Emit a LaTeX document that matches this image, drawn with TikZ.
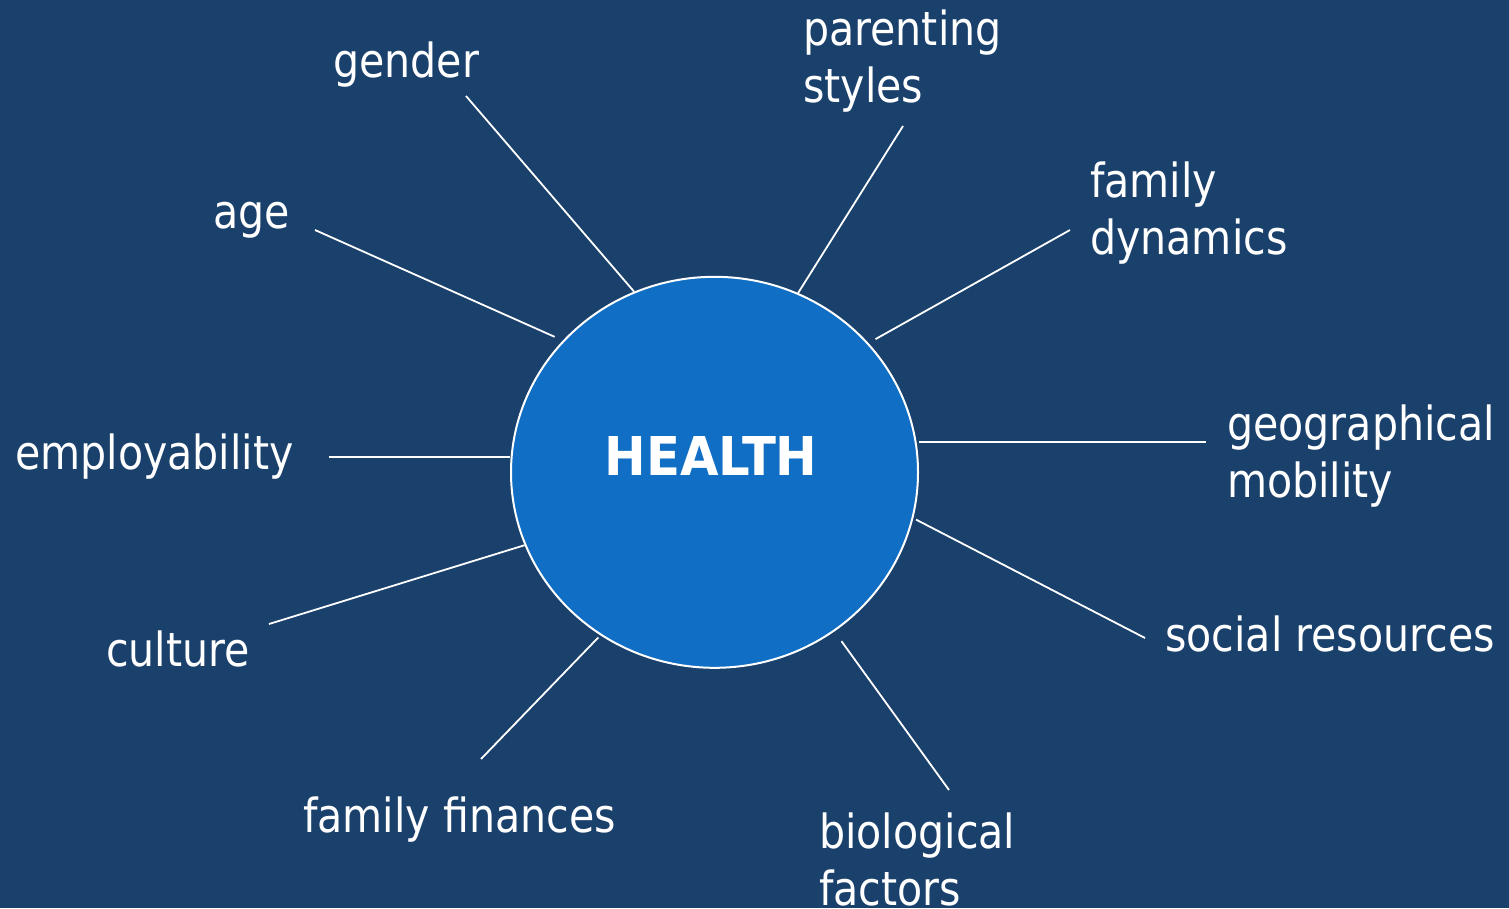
\documentclass[tikz,border=0pt]{standalone}
\usepackage{fontspec}
\setmainfont{DejaVu Sans}[FakeStretch=0.875]
\newfontfamily\hfont{DejaVu Sans}[FakeStretch=0.93]
\usetikzlibrary{shapes.geometric}
\definecolor{bg}{RGB}{26,64,108}
\definecolor{disc}{RGB}{16,110,196}
\begin{document}
\begin{tikzpicture}[x=1pt,y=-1pt,
  lbl/.style={text=white, inner sep=0pt, font=\fontsize{47}{57.5}\selectfont, anchor=base west},
  spoke/.style={draw=white, line width=1.8pt}]
\fill[bg] (0,0) rectangle (1509,908);
\useasboundingbox (0,0) rectangle (1509,908);
\node[ellipse, fill=disc, draw=white, line width=2pt, minimum width=407pt, minimum height=391pt, inner sep=0pt] (health) at (714.5,472.3) {};
\node[font=\hfont\bfseries\fontsize{53.5}{60}\selectfont, text=white, anchor=base, inner sep=0pt] (htext) at (711,475) {HEALTH};
% labels
\node[lbl] (gender) at (333,77) {gender};
\node[lbl] (age) at (213,228) {age};
\node[lbl] (employ) at (15,469) {employability};
\node[lbl] (culture) at (106,666) {culture};
\node[lbl] (finances) at (303,832) {family finances};
\node[lbl] (bio) at (819,848) {\begin{tabular}[t]{@{}l@{}}biological\\factors\end{tabular}};
\node[lbl] (social) at (1165,651) {social resources};
\node[lbl] (geo) at (1227,440) {\begin{tabular}[t]{@{}l@{}}geographical\\mobility\end{tabular}};
\node[lbl] (dyn) at (1090,197) {\begin{tabular}[t]{@{}l@{}}family\\dynamics\end{tabular}};
\node[lbl] (par) at (803,45) {\begin{tabular}[t]{@{}l@{}}parenting\\styles\end{tabular}};
% free ends
\coordinate (cg) at (466,96);
\coordinate (ca) at (315,230);
\coordinate (ce) at (329,457);
\coordinate (cc) at (269,624);
\coordinate (cf) at (481,759);
\coordinate (cb) at (949,790);
\coordinate (cs) at (1145,638);
\coordinate (cgeo) at (1206,442);
\coordinate (cd) at (1070,230);
\coordinate (cp) at (903,126);
% spokes
\draw[spoke] (cg) -- (health.114.6);
\draw[spoke, shorten >=9pt] (ca) -- (health.139.1);
\draw[spoke] (ce) -- (ce -| health.west);
\draw[spoke] (cc) -- (health.201.8);
\draw[spoke, shorten >=3pt] (cf) -- (health.235.9);
\draw[spoke, shorten >=12pt] (cb) -- (health.307.8);
\draw[spoke, shorten >=3pt] (cs) -- (health.347.4);
\draw[spoke] (cgeo) -- (cgeo -| health.east);
\draw[spoke, shorten >=8pt] (cd) -- (health.40.3);
\draw[spoke] (cp) -- (health.65.2);
\end{tikzpicture}
\end{document}
